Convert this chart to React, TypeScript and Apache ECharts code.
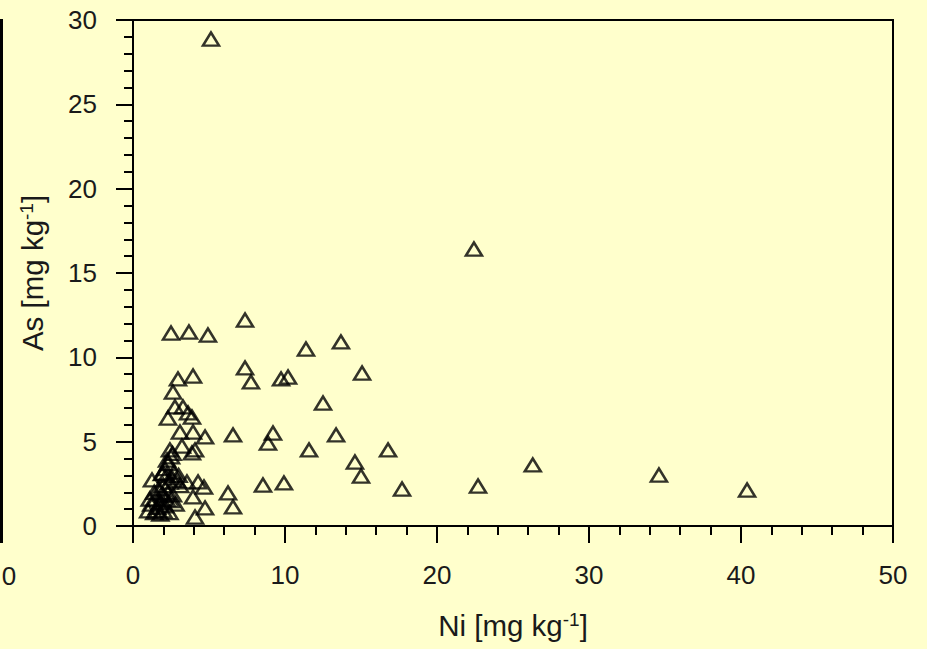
import React, { useEffect, useRef } from "react";
import * as echarts from "echarts";

const niValues = [
  5.13, 22.43, 2.5, 3.68, 4.93, 7.37, 11.38, 13.68, 15.07, 7.37, 7.76, 9.74, 10.2, 12.5,
  2.96, 3.95, 2.63, 2.76, 3.29, 3.62, 2.3, 3.88, 3.09, 3.95, 4.74, 6.58, 9.21, 8.88,
  13.36, 11.58, 14.6, 16.78, 15.0, 3.22, 4.08, 3.88, 2.43, 2.24, 1.97, 1.25, 2.57, 3.55,
  4.28, 4.67, 8.55, 9.93, 17.7, 22.7, 26.3, 34.6, 40.4, 3.95, 6.25, 2.63, 4.74, 6.58, 4.08,
  1.0, 1.2, 1.4, 1.5, 1.6, 1.8, 1.8, 1.9, 2.0, 2.1, 2.2, 2.3, 1.4, 1.7, 2.5, 2.8, 2.0, 2.4,
  2.9, 3.1, 1.9, 2.1, 2.3, 2.5, 2.6, 2.2, 2.7, 3.0, 1.6, 2.4, 1.1, 2.0,
];
const asValues = [
  28.87, 16.42, 11.44, 11.5, 11.32, 12.21, 10.49, 10.91, 9.07, 9.37, 8.54, 8.72, 8.83, 7.29,
  8.72, 8.89, 7.94, 7.06, 7.06, 6.7, 6.4, 6.46, 5.57, 5.57, 5.28, 5.4, 5.51, 4.92,
  5.4, 4.51, 3.79, 4.51, 2.96, 4.74, 4.51, 4.33, 4.51, 3.91, 3.14, 2.73, 2.85, 2.61,
  2.61, 2.31, 2.43, 2.55, 2.19, 2.37, 3.62, 3.02, 2.13, 1.72, 1.96, 1.84, 1.07, 1.13, 0.53,
  0.9, 1.3, 0.8, 1.6, 1.1, 0.7, 1.4, 1.9, 0.9, 1.2, 1.6, 2.0, 2.0, 2.2, 1.5, 1.3, 2.4, 2.6,
  2.7, 2.4, 3.1, 3.4, 3.7, 4.1, 4.3, 3.0, 3.2, 3.0, 0.9, 0.8, 1.6, 1.8,
];

const xTitle = "Ni [mg kg{sup|-1}]";
const yTitle = "As [mg kg{sup|-1}]";
const strayLabel = "0";

const BG = "#FFFFCC";
const FONT = "Liberation Sans, Arial, sans-serif";

export default function App() {
  const ref = useRef<HTMLDivElement>(null);
  useEffect(() => {
    document.body.style.margin = "0";
    document.body.style.background = BG;
    const chart = echarts.init(ref.current!, null, { renderer: "svg" });
    const data = niValues.map((x, i) => [x, asValues[i]]);
    const titleRich = {
      sup: { fontSize: 19, verticalAlign: "top", fontFamily: FONT, color: "#1a1a1a", lineHeight: 31 },
    };
    const axisCommon = {
      axisLine: { show: true, lineStyle: { color: "#000", width: 2 } },
      axisTick: { show: true, length: 17, lineStyle: { color: "#000", width: 2 } },
      minorTick: { show: true, splitNumber: 5, length: 9, lineStyle: { color: "#000", width: 2 } },
      splitLine: { show: false },
      axisLabel: { color: "#1a1a1a", fontSize: 26, fontFamily: FONT },
      nameLocation: "middle",
      nameTextStyle: { color: "#1a1a1a", fontSize: 29.5, fontFamily: FONT, rich: titleRich },
    };
    chart.setOption({
      animation: false,
      backgroundColor: BG,
      grid: {
        left: 133,
        top: 20,
        right: 34,
        bottom: 123,
        show: true,
        borderColor: "#000",
        borderWidth: 2,
        backgroundColor: "transparent",
      },
      xAxis: {
        type: "value",
        min: 0,
        max: 50,
        interval: 10,
        ...axisCommon,
        axisLabel: { ...axisCommon.axisLabel, margin: 36 },
        name: xTitle,
        nameGap: 84,
      },
      yAxis: {
        type: "value",
        min: 0,
        max: 30,
        interval: 5,
        ...axisCommon,
        axisLabel: { ...axisCommon.axisLabel, margin: 36 },
        name: yTitle,
        nameGap: 85,
      },
      graphic: [
        {
          type: "line",
          shape: { x1: 1.5, y1: 19, x2: 1.5, y2: 543 },
          style: { stroke: "#000", lineWidth: 3 },
        },
        {
          type: "text",
          x: 9,
          y: 576,
          style: {
            text: strayLabel,
            fontSize: 26,
            fontFamily: FONT,
            fill: "#1a1a1a",
            align: "center",
            verticalAlign: "middle",
          },
        },
      ],
      series: [
        {
          type: "scatter",
          data,
          symbol: "triangle",
          symbolSize: [16, 13],
          itemStyle: { color: "rgba(0,0,0,0)", borderColor: "#000", borderWidth: 2.5 },
        },
      ],
    });
    return () => chart.dispose();
  }, []);
  return (
    <div
      ref={ref}
      style={{ position: "fixed", left: 0, top: 0, width: 927, height: 649 }}
    />
  );
}
